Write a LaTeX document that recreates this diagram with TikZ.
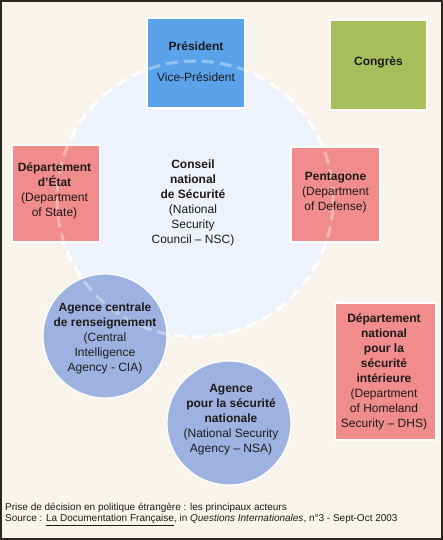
\documentclass[tikz,border=0pt]{standalone}
\usepackage{fontspec}
\setmainfont{Liberation Sans}
\definecolor{bg}{HTML}{F8F4EC}
\definecolor{nscfill}{HTML}{EEF2FA}
\definecolor{presblue}{HTML}{5AA2EA}
\definecolor{congreen}{HTML}{A8BE5C}
\definecolor{deptpink}{HTML}{F08C8B}
\definecolor{agblue}{HTML}{9DB2E0}
\definecolor{framecol}{HTML}{2B2622}
\definecolor{txt}{HTML}{1E1A1A}
\tikzset{
  boxshape/.style={rectangle, draw=white, line width=1.5pt, inner sep=0pt},
  agshape/.style={circle, draw=white, line width=1.2pt, fill=agblue, inner sep=0pt, minimum size=124pt},
  lbl/.style={align=center, font=\fontsize{12}{15}\selectfont, text=txt, inner sep=0pt},
  captext/.style={align=left, font=\fontsize{10}{11.5}\selectfont, text=txt, inner sep=0pt, anchor=west},
  nscring/.style={draw=white, line width=3pt, dash pattern=on 12pt off 6pt}
}
\begin{document}
\begin{tikzpicture}[x=1pt,y=-1pt]
\useasboundingbox (0,0) rectangle (443,540);
\fill[bg] (0,0) rectangle (443,540);
% NSC circle
\node[circle, fill=nscfill, minimum size=276pt, inner sep=0pt] (nsc) at (195,199) {};
% dashed ring (under the boxes)
\draw[nscring] (nsc.center) circle[radius=138pt];
% boxes
\node[boxshape, fill=presblue, minimum width=98pt, minimum height=90pt] (pres) at (196,63) {};
\node[boxshape, fill=congreen, minimum width=97pt, minimum height=90pt] (cong) at (378.5,65) {};
\node[boxshape, fill=deptpink, minimum width=88pt, minimum height=97pt] (etat) at (56,193.5) {};
\node[boxshape, fill=deptpink, minimum width=89pt, minimum height=95pt] (penta) at (335.5,194.5) {};
\node[boxshape, fill=deptpink, minimum width=101pt, minimum height=137pt] (dhs) at (385.5,371.5) {};
\node[agshape] (cia) at (105,336) {};
\node[agshape] (nsa) at (229,423) {};
% faint ring showing through the boxes
\draw[nscring, draw opacity=0.35] (nsc.center) circle[radius=138pt];
% labels
\node[lbl] (prest) at (196,61.5) {\textbf{Président}\\[16pt]Vice-Président};
\node[lbl] (congt) at (378.5,62) {\textbf{Congrès}};
\node[lbl] (etatt) at (54.5,190.5) {\textbf{Département}\\\textbf{d’État}\\(Department\\of State)};
\node[lbl] (pentat) at (335.5,192.5) {\textbf{Pentagone}\\(Department\\of Defense)};
\node[lbl] (nsct) at (193,203) {\textbf{Conseil}\\\textbf{national}\\\textbf{de Sécurité}\\(National\\Security\\Council -- NSC)};
\node[lbl] (dhst) at (384,371.5) {\textbf{Département}\\\textbf{national}\\\textbf{pour la}\\\textbf{sécurité}\\\textbf{intérieure}\\(Department\\of Homeland\\Security -- DHS)};
\node[lbl] (ciat) at (105,338) {\textbf{Agence centrale}\\\textbf{de renseignement}\\(Central\\Intelligence\\Agency - CIA)};
\node[lbl] (nsat) at (231,420) {\textbf{Agence}\\\textbf{pour la sécurité}\\\textbf{nationale}\\(National Security\\Agency -- NSA)};
% caption
\node[captext] (caption) at (5,514.5) {Prise de décision en politique étrangère : les principaux acteurs\\Source : \underline{La Documentation Française}, in \textit{Questions Internationales}, n°3 - Sept-Oct 2003};
% frame
\draw[framecol, line width=2pt] (1,1) rectangle (442,539);
\end{tikzpicture}
\end{document}
